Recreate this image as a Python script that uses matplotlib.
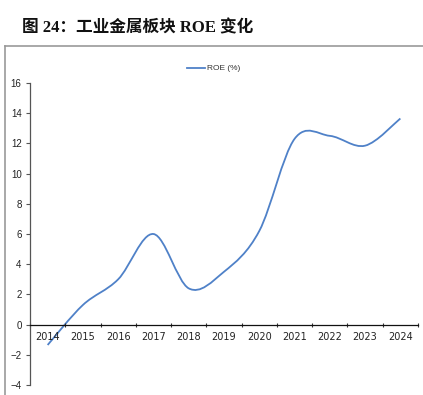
import matplotlib
matplotlib.use("Agg")
import matplotlib.pyplot as plt
from matplotlib.path import Path
from matplotlib.patches import PathPatch
from matplotlib.lines import Line2D

years = ["2014", "2015", "2016", "2017", "2018", "2019", "2020", "2021", "2022", "2023", "2024"]
roe = [-1.35, 1.3, 3.0, 6.0, 2.4, 3.5, 6.2, 12.3, 12.5, 11.85, 13.65]
y_ticks = list(range(-4, 17, 2))
y_tick_labels = [str(v).replace("-", "\u2212") for v in y_ticks]
series_name = "ROE (%)"
title = "图 24：工业金属板块 ROE 变化"

line_color = "#4F81C8"

fig = plt.figure(figsize=(4.23, 3.95), dpi=100)
ax = fig.add_axes([30/423, 1-385/395, (418-30)/423, (385-83)/395])

# smoothed (Excel-like) curve through data points via cubic Bezier
xs = list(range(len(roe)))
n = len(roe)
verts = [(xs[0], roe[0])]
codes = [Path.MOVETO]
for i in range(n-1):
    x0, y0 = xs[i], roe[i]
    x1, y1 = xs[i+1], roe[i+1]
    xp, yp = (xs[i-1], roe[i-1]) if i > 0 else (x0, y0)
    xn, yn = (xs[i+2], roe[i+2]) if i+2 < n else (x1, y1)
    c1 = (x0 + (x1 - xp)/6, y0 + (y1 - yp)/6)
    c2 = (x1 - (xn - x0)/6, y1 - (yn - y0)/6)
    verts += [c1, c2, (x1, y1)]
    codes += [Path.CURVE4]*3
ax.add_patch(PathPatch(Path(verts, codes), fill=False, edgecolor=line_color, lw=1.3, capstyle='butt'))

ax.set_xlim(-0.5, n-0.5)
ax.set_ylim(-4, 16)
ax.set_yticks(y_ticks, labels=y_tick_labels)
ax.set_xticks(xs, labels=years)
ax.set_xticks([i-0.5 for i in range(n+1)], minor=True)
ax.tick_params(axis='x', which='major', length=0, pad=5, labelsize=7, labelcolor="#222222")
ax.tick_params(axis='x', which='minor', length=3, direction='inout', color="#333333", width=0.8)
ax.tick_params(axis='y', which='major', length=3, direction='out', color="#555555", width=0.8, pad=3,
               labelsize=7, labelcolor="#222222")
for lab in ax.get_xticklabels() + ax.get_yticklabels():
    lab.set_family("Liberation Sans")
    lab.set_fontsize(7)

for s in ['top', 'right']:
    ax.spines[s].set_visible(False)
ax.spines['left'].set_color("#555555")
ax.spines['left'].set_linewidth(0.9)
ax.spines['bottom'].set_position(('data', 0))
ax.spines['bottom'].set_color("#111111")
ax.spines['bottom'].set_linewidth(0.9)

# legend
fig.add_artist(Line2D([187/423, 205/423], [1-68/395, 1-68/395], color=line_color, lw=1.3))
fig.text(207/423, 1-68/395, series_name, fontsize=6, family="Liberation Sans", color="#333333", va='center', ha='left')

# title and frame
fig.text(22/423, 1-28/395, title, fontsize=12, fontweight='bold',
         family=["Liberation Serif", "Noto Sans CJK SC"], va='center', ha='left', color="#111111")
fig.add_artist(Line2D([5/423, 1], [1-46/395, 1-46/395], color="#999999", lw=1.2))
fig.add_artist(Line2D([5/423, 5/423], [1-46/395, 0], color="#999999", lw=1.2))

fig.savefig("out.png", dpi=100)
